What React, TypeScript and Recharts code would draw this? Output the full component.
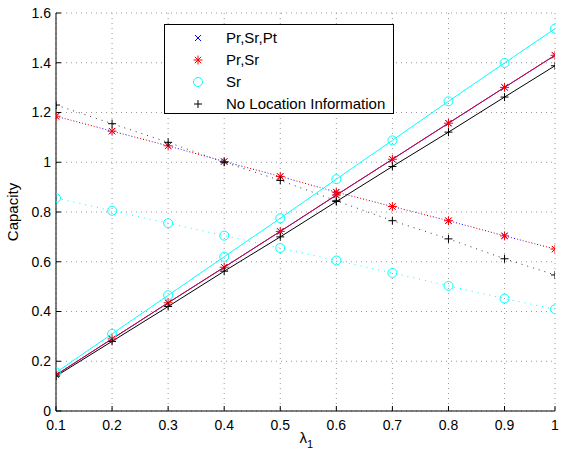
import React from "react";
import { ComposedChart, Line, XAxis, YAxis, CartesianGrid, Legend, Label } from "recharts";

const lambdaValues = [0.1, 0.2, 0.3, 0.4, 0.5, 0.6, 0.7, 0.8, 0.9, 0.99];
const xTicks = [0.1, 0.2, 0.3, 0.4, 0.5, 0.6, 0.7, 0.8, 0.9, 0.99];
const xTickLabels = ["0.1", "0.2", "0.3", "0.4", "0.5", "0.6", "0.7", "0.8", "0.9", "1"];
const yTicks = [0, 0.2, 0.4, 0.6, 0.8, 1, 1.2, 1.4, 1.6];
const yTickLabels = ["0", "0.2", "0.4", "0.6", "0.8", "1", "1.2", "1.4", "1.6"];

// rising (solid) curves
const prSrPtUp = [0.145, 0.29, 0.435, 0.578, 0.722, 0.868, 1.012, 1.157, 1.301, 1.43];
const prSrUp = [0.145, 0.29, 0.435, 0.578, 0.722, 0.868, 1.012, 1.157, 1.301, 1.43];
const srUp = [0.155, 0.31, 0.465, 0.62, 0.775, 0.932, 1.088, 1.245, 1.399, 1.537];
const noLocUp = [0.14, 0.28, 0.42, 0.562, 0.7, 0.842, 0.983, 1.121, 1.262, 1.388];

// falling (dotted) curves
const prSrPtDown = [1.185, 1.125, 1.066, 1.003, 0.943, 0.88, 0.822, 0.765, 0.704, 0.651];
const prSrDown = [1.185, 1.125, 1.066, 1.003, 0.943, 0.88, 0.822, 0.765, 0.704, 0.651];
const srDown = [0.856, 0.805, 0.755, 0.705, 0.655, 0.605, 0.555, 0.503, 0.452, 0.409];
const noLocDown = [1.23, 1.155, 1.08, 1.0, 0.927, 0.845, 0.765, 0.692, 0.612, 0.547];

const seriesNames = ["Pr,Sr,Pt", "Pr,Sr", "Sr", "No Location Information"];

const data = lambdaValues.map((x, i) => ({
  x,
  prSrPtUp: prSrPtUp[i],
  prSrUp: prSrUp[i],
  srUp: srUp[i],
  noLocUp: noLocUp[i],
  prSrPtDown: prSrPtDown[i],
  prSrDown: prSrDown[i],
  srDown: srDown[i],
  noLocDown: noLocDown[i],
}));

const FONT = "'Liberation Sans', Arial, Helvetica, sans-serif";
const BLUE = "#0000ff";
const RED = "#ff0000";
const CYAN = "#00ffff";
const BLACK = "#000000";

const XMark = (cx: number, cy: number, r = 3) => (
  <g stroke={BLUE} strokeWidth={1}>
    <line x1={cx - r} y1={cy - r} x2={cx + r} y2={cy + r} />
    <line x1={cx - r} y1={cy + r} x2={cx + r} y2={cy - r} />
  </g>
);
const StarMark = (cx: number, cy: number, r = 4.5) => {
  const d = r * 0.7071;
  return (
    <g stroke={RED} strokeWidth={1}>
      <line x1={cx - r} y1={cy} x2={cx + r} y2={cy} />
      <line x1={cx} y1={cy - r} x2={cx} y2={cy + r} />
      <line x1={cx - d} y1={cy - d} x2={cx + d} y2={cy + d} />
      <line x1={cx - d} y1={cy + d} x2={cx + d} y2={cy - d} />
    </g>
  );
};
const CircleMark = (cx: number, cy: number, r = 4.5) => (
  <circle cx={cx} cy={cy} r={r} fill="none" stroke={CYAN} strokeWidth={1} />
);
const PlusMark = (cx: number, cy: number, r = 4) => (
  <g stroke={BLACK} strokeWidth={1}>
    <line x1={cx - r} y1={cy} x2={cx + r} y2={cy} />
    <line x1={cx} y1={cy - r} x2={cx} y2={cy + r} />
  </g>
);

const makeDot = (fn: (cx: number, cy: number) => React.ReactElement) => (props: any) => {
  const { cx, cy, index } = props;
  if (cx == null || cy == null) return <g key={index} />;
  return <g key={index}>{fn(cx, cy)}</g>;
};

const markers = [XMark, StarMark, CircleMark, PlusMark];

const renderLegend = () => (
  <svg width={230} height={90} style={{ display: "block" }}>
    <rect x={0.5} y={0.5} width={229} height={89} fill="#fff" stroke="#000" strokeWidth={1} />
    {seriesNames.map((name, i) => {
      const cy = 14 + i * 22;
      return (
        <g key={name}>
          {markers[i](34, cy)}
          <text x={62} y={cy + 5} fontFamily={FONT} fontSize={15} fill="#000">
            {name}
          </text>
        </g>
      );
    })}
  </svg>
);

const XLabel = (props: any) => {
  const vb = props.viewBox || { x: 56, width: 499, y: 411 };
  const cx = vb.x + vb.width / 2;
  return (
    <text x={cx - 6} y={443} fontFamily={FONT} fontSize={15} fill="#000">
      λ<tspan fontSize={11} dy={5}>1</tspan>
    </text>
  );
};

const YLabel = (props: any) => {
  const vb = props.viewBox || { y: 13, height: 398 };
  const cy = vb.y + vb.height / 2;
  return (
    <text
      x={18}
      y={cy}
      transform={`rotate(-90 18 ${cy})`}
      textAnchor="middle"
      fontFamily={FONT}
      fontSize={15}
      fill="#000"
    >
      Capacity
    </text>
  );
};

const DOTS = "1 5";

export default function App() {
  return (
    <div style={{ position: "absolute", left: 0, top: 0, width: 561, height: 457, background: "#fff" }}>
      <ComposedChart
        width={561}
        height={457}
        data={data}
        margin={{ top: 13, right: 6, left: 8, bottom: 16 }}
      >
        <CartesianGrid stroke="#999" strokeDasharray="1 4" strokeWidth={1} />
        <XAxis
          dataKey="x"
          type="number"
          domain={[0.1, 0.99]}
          ticks={xTicks}
          tickFormatter={(v: number) => xTickLabels[xTicks.indexOf(v)] ?? String(v)}
          height={30}
          tickSize={-5}
          tickMargin={14}
          stroke="#000"
          tick={{ fill: "#000", fontSize: 14, fontFamily: FONT }}
          axisLine={{ stroke: "#000" }}
          tickLine={{ stroke: "#000" }}
          allowDataOverflow
        >
          <Label content={<XLabel />} />
        </XAxis>
        <XAxis
          xAxisId="top"
          orientation="top"
          dataKey="x"
          type="number"
          domain={[0.1, 0.99]}
          ticks={xTicks}
          height={0}
          tickSize={-5}
          tick={false}
          axisLine={{ stroke: "#000" }}
          tickLine={{ stroke: "#000" }}
          allowDataOverflow
        />
        <YAxis
          type="number"
          domain={[0, 1.6]}
          ticks={yTicks}
          tickFormatter={(v: number) => yTickLabels[yTicks.indexOf(v)] ?? String(v)}
          width={48}
          tickSize={-5}
          tickMargin={10}
          tick={{ fill: "#000", fontSize: 14, fontFamily: FONT }}
          axisLine={{ stroke: "#000" }}
          tickLine={{ stroke: "#000" }}
          allowDataOverflow
        >
          <Label content={<YLabel />} />
        </YAxis>
        <YAxis
          yAxisId="right"
          orientation="right"
          type="number"
          domain={[0, 1.6]}
          ticks={yTicks}
          width={0}
          tickSize={-5}
          tick={false}
          axisLine={{ stroke: "#000" }}
          tickLine={{ stroke: "#000" }}
          allowDataOverflow
        />

        {/* falling dotted curves */}
        <Line dataKey="prSrPtDown" stroke={BLUE} strokeWidth={1} strokeDasharray={DOTS} dot={makeDot(XMark)} isAnimationActive={false} legendType="none" />
        <Line dataKey="prSrDown" stroke={RED} strokeWidth={1} strokeDasharray={DOTS} strokeDashoffset={3} dot={makeDot(StarMark)} isAnimationActive={false} legendType="none" />
        <Line dataKey="srDown" stroke={CYAN} strokeWidth={1} strokeDasharray={DOTS} dot={makeDot(CircleMark)} isAnimationActive={false} legendType="none" />
        <Line dataKey="noLocDown" stroke={BLACK} strokeOpacity={0.8} strokeWidth={1} strokeDasharray={DOTS} dot={makeDot(PlusMark)} isAnimationActive={false} legendType="none" />

        {/* rising solid curves */}
        <Line dataKey="prSrPtUp" stroke={BLUE} strokeWidth={1} dot={makeDot(XMark)} isAnimationActive={false} legendType="none" />
        <Line dataKey="prSrUp" stroke={RED} strokeOpacity={0.85} strokeWidth={1} dot={makeDot(StarMark)} isAnimationActive={false} legendType="none" />
        <Line dataKey="srUp" stroke={CYAN} strokeWidth={1} dot={makeDot(CircleMark)} isAnimationActive={false} legendType="none" />
        <Line dataKey="noLocUp" stroke={BLACK} strokeWidth={1} dot={makeDot(PlusMark)} isAnimationActive={false} legendType="none" />

        <Legend
          layout="vertical"
          align="center"
          verticalAlign="middle"
          content={renderLegend}
          wrapperStyle={{ position: "absolute", left: 164, top: 24, width: 230, height: 90 }}
        />
      </ComposedChart>
    </div>
  );
}
